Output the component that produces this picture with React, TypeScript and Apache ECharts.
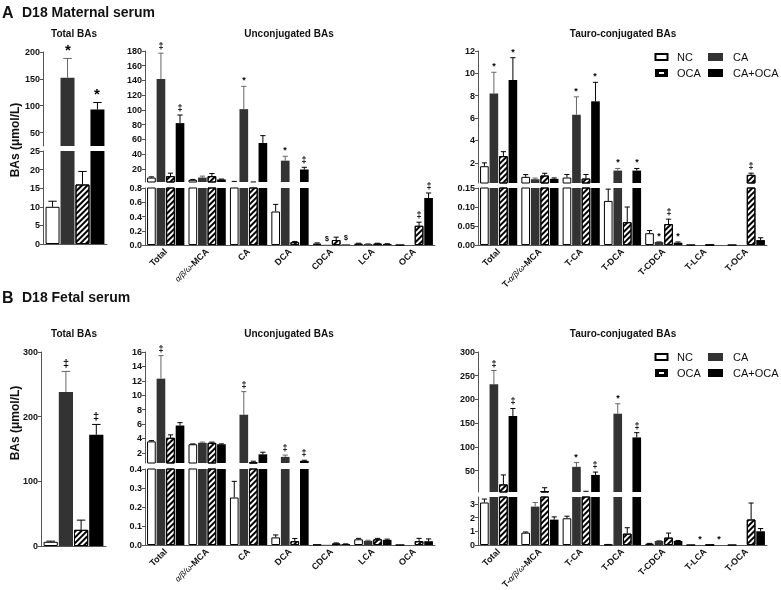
import React, { useEffect, useRef } from 'react';
import * as echarts from 'echarts';

// ---------- data ----------
const groups = ['NC', 'CA', 'OCA', 'CA+OCA'];
const totalCats = [''];
const unconjCats = ['Total', 'α/β/ω-MCA', 'CA', 'DCA', 'CDCA', 'LCA', 'OCA'];
const tauroCats = ['Total', 'T-α/β/ω-MCA', 'T-CA', 'T-DCA', 'T-CDCA', 'T-LCA', 'T-OCA'];

// A: D18 maternal serum — total BAs (one value per group)
const aTotMean = [10, 152, 16, 93];
const aTotSem = [1.5, 36, 3.5, 13];
const aTotSig = ['', '*', '', '*'];

// A: unconjugated BAs
const aUncNC = [8, 5, 2.5, 0.47, 0.02, 0.02, 0];
const aUncCA = [142, 8, 101, 31, 0.003, 0.015, 0];
const aUncOCA = [10, 10, 1.8, 0.04, 0.07, 0.02, 0.27];
const aUncCAOCA = [82, 5.5, 55, 19, 0.008, 0.015, 0.66];
const aUncNCSem = [1, 0.5, 0.3, 0.1, 0.01, 0.005, 0];
const aUncCASem = [35, 2, 31, 6, 0, 0.004, 0];
const aUncOCASem = [4, 3.5, 0.3, 0.01, 0.04, 0.005, 0.05];
const aUncCAOCASem = [11, 0.5, 10, 3, 0, 0.003, 0.07];
const aUncNCSig = ['', '', '', '', '', '', ''];
const aUncCASig = ['‡', '', '*', '*', '$', '', ''];
const aUncOCASig = ['', '', '', '', '', '', '‡'];
const aUncCAOCASig = ['‡', '', '', '‡', '$', '', '‡'];

// A: tauro-conjugated BAs
const aTauNC = [1.7, 0.75, 0.69, 0.116, 0.031, 0, 0];
const aTauCA = [8.2, 0.54, 6.3, 1.31, 0.008, 0, 0];
const aTauOCA = [2.6, 0.87, 0.6, 0.06, 0.055, 0, 0.93];
const aTauCAOCA = [9.4, 0.57, 7.5, 1.31, 0.006, 0, 0.013];
const aTauNCSem = [0.3, 0.2, 0.27, 0.031, 0.007, 0, 0];
const aTauCASem = [1.9, 0.1, 1.6, 0.19, 0.001, 0, 0];
const aTauOCASem = [0.4, 0.2, 0.36, 0.04, 0.013, 0, 0.15];
const aTauCAOCASem = [2.0, 0.08, 1.7, 0.19, 0.002, 0, 0.006];
const aTauNCSig = ['', '', '', '', '', '', ''];
const aTauCASig = ['*', '', '*', '*', '*', '', ''];
const aTauOCASig = ['', '', '', '', '‡', '', '‡'];
const aTauCAOCASig = ['*', '', '*', '*', '*', '', ''];

// B: D18 fetal serum — total BAs
const bTotMean = [6.5, 238, 25, 172];
const bTotSem = [1, 32, 15, 16];
const bTotSig = ['', '‡', '', '‡'];

// B: unconjugated BAs
const bUncNC = [3.6, 3.2, 0.25, 0.04, 0.002, 0.03, 0];
const bUncCA = [12.3, 3.4, 7.3, 1.45, 0.001, 0.022, 0];
const bUncOCA = [4.1, 3.4, 0.7, 0.02, 0.008, 0.03, 0.02];
const bUncCAOCA = [5.8, 3.2, 1.8, 0.9, 0.005, 0.027, 0.02];
const bUncNCSem = [0.1, 0.05, 0.085, 0.013, 0, 0.005, 0];
const bUncCASem = [3.2, 0.1, 3.2, 0.25, 0, 0.003, 0];
const bUncOCASem = [0.4, 0.1, 0.15, 0.014, 0.003, 0.005, 0.015];
const bUncCAOCASem = [0.4, 0.05, 0.3, 0.08, 0.001, 0.004, 0.012];
const bUncNCSig = ['', '', '', '', '', '', ''];
const bUncCASig = ['‡', '', '‡', '‡', '', '', ''];
const bUncOCASig = ['', '', '', '', '', '', ''];
const bUncCAOCASig = ['', '', '', '‡', '', '', ''];

// B: tauro-conjugated BAs
const bTauNC = [3.1, 0.9, 1.95, 0.03, 0.1, 0, 0];
const bTauCA = [232, 2.8, 58, 170, 0.29, 0, 0];
const bTauOCA = [21, 7, 6, 0.83, 0.54, 0, 1.86];
const bTauCAOCA = [165, 1.85, 41, 120, 0.29, 0, 1.0];
const bTauNCSem = [0.25, 0.05, 0.15, 0.01, 0.02, 0, 0];
const bTauCASem = [29, 0.3, 9, 21, 0.04, 0, 0];
const bTauOCASem = [20, 7, 0.5, 0.43, 0.33, 0, 1.2];
const bTauCAOCASem = [16, 0.2, 6, 10, 0.04, 0, 0.2];
const bTauNCSig = ['', '', '', '', '', '', ''];
const bTauCASig = ['‡', '', '*', '*', '', '*', ''];
const bTauOCASig = ['', '', '', '', '', '', ''];
const bTauCAOCASig = ['‡', '', '‡', '‡', '', '*', ''];

// tick labels
const aTotUpperTicks = [50, 100, 150, 200];
const aTotLowerTicks = [0, 5, 10, 15, 20, 25];
const aUncUpperTicks = [20, 40, 60, 80, 100, 120, 140, 160, 180];
const aUncLowerTicks = [0, 0.2, 0.4, 0.6, 0.8];
const aTauUpperTicks = [2, 4, 6, 8, 10, 12];
const aTauLowerTicks = [0, 0.05, 0.1, 0.15];
const bTotTicks = [0, 100, 200, 300];
const bUncUpperTicks = [2, 4, 6, 8, 10, 12, 14, 16];
const bUncLowerTicks = [0, 0.1, 0.2, 0.3, 0.4];
const bTauUpperTicks = [50, 100, 150, 200, 250, 300];
const bTauLowerTicks = [0, 1, 2, 3];

// ---------- styling / layout ----------
const FONT = 'Arial, "Liberation Sans", Helvetica, sans-serif';
const INK = '#111';
const AXIS = '#555';

const barStyles: any[] = [
  { color: '#fff', borderColor: '#000', borderWidth: 1 },
  { color: '#333' },
  {
    color: '#fff',
    borderColor: '#000',
    borderWidth: 1,
    decal: {
      symbol: 'rect',
      symbolSize: 1,
      dashArrayX: [1, 0],
      dashArrayY: [1.4, 1.8],
      rotation: -Math.PI / 4,
      color: '#000',
      backgroundColor: '#fff',
    },
  },
  { color: '#000' },
];
const errColors = ['#000', '#666', '#000', '#000'];

type Seg = { top: number; height: number; min: number; max: number; ticks: number[]; dec: number };
type Panel = {
  left: number;
  width: number;
  cats: string[];
  mean: number[][];
  sem: number[][];
  sig: string[][];
  segs: Seg[];
  cg: number;
  bg: number;
  big: boolean;
  xLabels: boolean;
};

const single = (a: number[]) => a.map((v) => [v]);
const singleS = (a: string[]) => a.map((v) => [v]);

const panels: Panel[] = [
  {
    left: 43, width: 64, cats: totalCats,
    mean: single(aTotMean), sem: single(aTotSem), sig: singleS(aTotSig),
    segs: [
      { top: 52, height: 94, min: 25, max: 200, ticks: aTotUpperTicks, dec: 0 },
      { top: 151, height: 93, min: 0, max: 25, ticks: aTotLowerTicks, dec: 0 },
    ],
    cg: 0.08, bg: 0.07, big: true, xLabels: false,
  },
  {
    left: 145, width: 290, cats: unconjCats,
    mean: [aUncNC, aUncCA, aUncOCA, aUncCAOCA],
    sem: [aUncNCSem, aUncCASem, aUncOCASem, aUncCAOCASem],
    sig: [aUncNCSig, aUncCASig, aUncOCASig, aUncCAOCASig],
    segs: [
      { top: 51, height: 131, min: 2, max: 180, ticks: aUncUpperTicks, dec: 0 },
      { top: 188, height: 57, min: 0, max: 0.8, ticks: aUncLowerTicks, dec: 1 },
    ],
    cg: 0.1, bg: 0.1, big: false, xLabels: true,
  },
  {
    left: 478, width: 289, cats: tauroCats,
    mean: [aTauNC, aTauCA, aTauOCA, aTauCAOCA],
    sem: [aTauNCSem, aTauCASem, aTauOCASem, aTauCAOCASem],
    sig: [aTauNCSig, aTauCASig, aTauOCASig, aTauCAOCASig],
    segs: [
      { top: 51, height: 132, min: 0.2, max: 12, ticks: aTauUpperTicks, dec: 0 },
      { top: 188, height: 57, min: 0, max: 0.15, ticks: aTauLowerTicks, dec: 2 },
    ],
    cg: 0.1, bg: 0.1, big: false, xLabels: true,
  },
  {
    left: 41, width: 65, cats: totalCats,
    mean: single(bTotMean), sem: single(bTotSem), sig: singleS(bTotSig),
    segs: [{ top: 352, height: 194, min: 0, max: 300, ticks: bTotTicks, dec: 0 }],
    cg: 0.08, bg: 0.07, big: true, xLabels: false,
  },
  {
    left: 145, width: 290, cats: unconjCats,
    mean: [bUncNC, bUncCA, bUncOCA, bUncCAOCA],
    sem: [bUncNCSem, bUncCASem, bUncOCASem, bUncCAOCASem],
    sig: [bUncNCSig, bUncCASig, bUncOCASig, bUncCAOCASig],
    segs: [
      { top: 352, height: 111, min: 0.6, max: 16, ticks: bUncUpperTicks, dec: 0 },
      { top: 469, height: 76, min: 0, max: 0.4, ticks: bUncLowerTicks, dec: 1 },
    ],
    cg: 0.1, bg: 0.1, big: false, xLabels: true,
  },
  {
    left: 478, width: 289, cats: tauroCats,
    mean: [bTauNC, bTauCA, bTauOCA, bTauCAOCA],
    sem: [bTauNCSem, bTauCASem, bTauOCASem, bTauCAOCASem],
    sig: [bTauNCSig, bTauCASig, bTauOCASig, bTauCAOCASig],
    segs: [
      { top: 352, height: 140, min: 5, max: 300, ticks: bTauUpperTicks, dec: 0 },
      { top: 497, height: 48, min: 0, max: 3.5, ticks: bTauLowerTicks, dec: 0 },
    ],
    cg: 0.1, bg: 0.1, big: false, xLabels: true,
  },
];

const labelFormatter = (v: string) =>
  v.indexOf('α/β/ω') >= 0 ? v.replace('α/β/ω', '{g|α/β/ω}') : v;

function buildOption() {
  const grid: any[] = [];
  const xAxis: any[] = [];
  const yAxis: any[] = [];
  const series: any[] = [];

  panels.forEach((p) => {
    p.segs.forEach((s, si) => {
      const gi = grid.length;
      const lowest = si === p.segs.length - 1;
      grid.push({ left: p.left, top: s.top, width: p.width, height: s.height, containLabel: false, outerBoundsMode: 'none' });
      xAxis.push({
        type: 'category',
        gridIndex: gi,
        data: p.cats,
        show: lowest,
        axisLine: { show: true, lineStyle: { color: AXIS, width: 1 } },
        axisTick: { show: false },
        axisLabel: {
          show: p.xLabels,
          rotate: 45,
          interval: 0,
          margin: 5,
          fontSize: 9,
          fontWeight: 'bold',
          fontFamily: FONT,
          color: INK,
          formatter: labelFormatter,
          rich: { g: { fontStyle: 'italic', fontWeight: 'normal', fontSize: 8, fontFamily: FONT, color: '#000' } },
        },
        splitLine: { show: false },
      });
      yAxis.push({
        type: 'value',
        gridIndex: gi,
        min: s.min,
        max: s.max,
        axisLine: { show: true, lineStyle: { color: AXIS, width: 1 } },
        axisTick: { show: true, length: 3, customValues: s.ticks, lineStyle: { color: AXIS } },
        axisLabel: {
          customValues: s.ticks,
          formatter: (v: number) => v.toFixed(s.dec),
          fontSize: 9,
          fontWeight: 'bold',
          fontFamily: FONT,
          color: INK,
          margin: 3,
        },
        splitLine: { show: false },
      });
      groups.forEach((g, k) => {
        series.push({
          type: 'bar',
          name: g,
          xAxisIndex: gi,
          yAxisIndex: gi,
          data: p.mean[k],
          barCategoryGap: `${p.cg * 100}%`,
          barGap: `${p.bg * 100}%`,
          itemStyle: barStyles[k],
          clip: true,
          silent: true,
        });
      });
      const annLo = lowest ? -Infinity : p.segs[si + 1].max;
      const annHi = si === 0 ? Infinity : s.max;
      const items: number[][] = [];
      p.cats.forEach((_, c) => {
        groups.forEach((_g, k) => items.push([c, k, p.mean[k][c], p.sem[k][c]]));
      });
      series.push({
        type: 'custom',
        xAxisIndex: gi,
        yAxisIndex: gi,
        clip: false,
        silent: true,
        z: 5,
        encode: { x: 0, y: 2 },
        data: items,
        renderItem: (params: any, api: any) => {
          const c = api.value(0);
          const k = api.value(1);
          const m = api.value(2);
          const e = api.value(3);
          const cs = params.coordSys;
          const band = api.size([1, 0])[0];
          const b = (band * (1 - p.cg)) / (4 + 3 * p.bg);
          const cx = api.coord([c, 0])[0] + (k - 1.5) * b * (1 + p.bg);
          const yT = cs.y;
          const yB = cs.y + cs.height;
          const ym = api.coord([c, m])[1];
          const ye = api.coord([c, m + e])[1];
          const children: any[] = [];
          const col = errColors[k];
          if (e > 0) {
            const y1 = Math.min(Math.max(ym, yT), yB);
            const y2 = Math.min(Math.max(ye, yT), yB);
            if (y1 - y2 > 0.2) {
              children.push({ type: 'line', shape: { x1: cx, y1, x2: cx, y2 }, style: { stroke: col, lineWidth: 1 } });
            }
            if (ye >= yT - 0.5 && ye <= yB + 0.5) {
              const cw = b * 0.3;
              children.push({ type: 'line', shape: { x1: cx - cw, y1: ye, x2: cx + cw, y2: ye }, style: { stroke: col, lineWidth: 1 } });
            }
          }
          const sig = p.sig[k][c];
          const topV = m + e;
          if (sig && topV > annLo && topV <= annHi) {
            const yy = Math.min(ye, yB);
            const isStar = sig === '*';
            const size = p.big ? (isStar ? 15 : 11) : isStar ? 9 : sig === '$' ? 7 : 9;
            const off = isStar ? (p.big ? 1 : 2) : 3;
            children.push({
              type: 'text',
              x: Math.round(cx),
              y: Math.round(yy - off),
              style: {
                text: sig,
                align: 'center',
                verticalAlign: 'bottom',
                font: `bold ${size}px ${FONT}`,
                fill: '#000',
              },
            });
          }
          return { type: 'group', children };
        },
      });
    });
  });

  const txt = (text: string, x: number, y: number, size: number, align = 'left', weight = 'bold', extra: any = {}) => ({
    type: 'text',
    x,
    y,
    ...extra,
    style: { text, font: `${weight} ${size}px ${FONT}`, fill: INK, align, verticalAlign: 'middle' },
  });

  const legendAt = (y0: number) => {
    const y1 = y0;
    const y2 = y0 + 16;
    return [
      { type: 'rect', shape: { x: 655.5, y: y1 - 3, width: 12, height: 6 }, style: { fill: '#fff', stroke: '#000', lineWidth: 2 } },
      { type: 'rect', shape: { x: 655, y: y2 - 4, width: 13, height: 8 }, style: { fill: '#000' } },
      { type: 'rect', shape: { x: 659, y: y2 - 1, width: 5, height: 2 }, style: { fill: '#fff' } },
      { type: 'rect', shape: { x: 708, y: y1 - 4, width: 15, height: 8 }, style: { fill: '#333' } },
      { type: 'rect', shape: { x: 708, y: y2 - 4, width: 15, height: 8 }, style: { fill: '#000' } },
      txt(groups[0], 677, y1, 11, 'left', 'normal'),
      txt(groups[1], 733, y1, 11, 'left', 'normal'),
      txt(groups[2], 677, y2, 11, 'left', 'normal'),
      txt(groups[3], 733, y2, 11, 'left', 'normal'),
    ];
  };

  const graphic = [
    txt('A', 2, 12, 16),
    txt('D18 Maternal serum', 22, 12, 14),
    txt('B', 2, 297, 16),
    txt('D18 Fetal serum', 22, 297, 14),
    txt('Total BAs', 74, 33, 10, 'center'),
    txt('Unconjugated BAs', 289, 33, 10, 'center'),
    txt('Tauro-conjugated BAs', 623, 33, 10, 'center'),
    txt('Total BAs', 74, 333, 10, 'center'),
    txt('Unconjugated BAs', 289, 333, 10, 'center'),
    txt('Tauro-conjugated BAs', 623, 333, 10, 'center'),
    txt('BAs (μmol/L)', 15, 140, 12, 'center', 'bold', { rotation: Math.PI / 2 }),
    txt('BAs (μmol/L)', 15, 423, 12, 'center', 'bold', { rotation: Math.PI / 2 }),
    ...legendAt(57),
    ...legendAt(357),
  ];

  return {
    animation: false,
    backgroundColor: '#fff',
    textStyle: { fontFamily: FONT },
    grid,
    xAxis,
    yAxis,
    series,
    graphic,
  };
}

export default function App() {
  const ref = useRef<HTMLDivElement>(null);
  useEffect(() => {
    document.body.style.margin = '0';
    const chart = echarts.init(ref.current as HTMLDivElement, null, { renderer: 'svg' });
    chart.setOption(buildOption() as any);
    return () => chart.dispose();
  }, []);
  return <div ref={ref} style={{ width: 781, height: 590, filter: 'grayscale(1)' }} />;
}
